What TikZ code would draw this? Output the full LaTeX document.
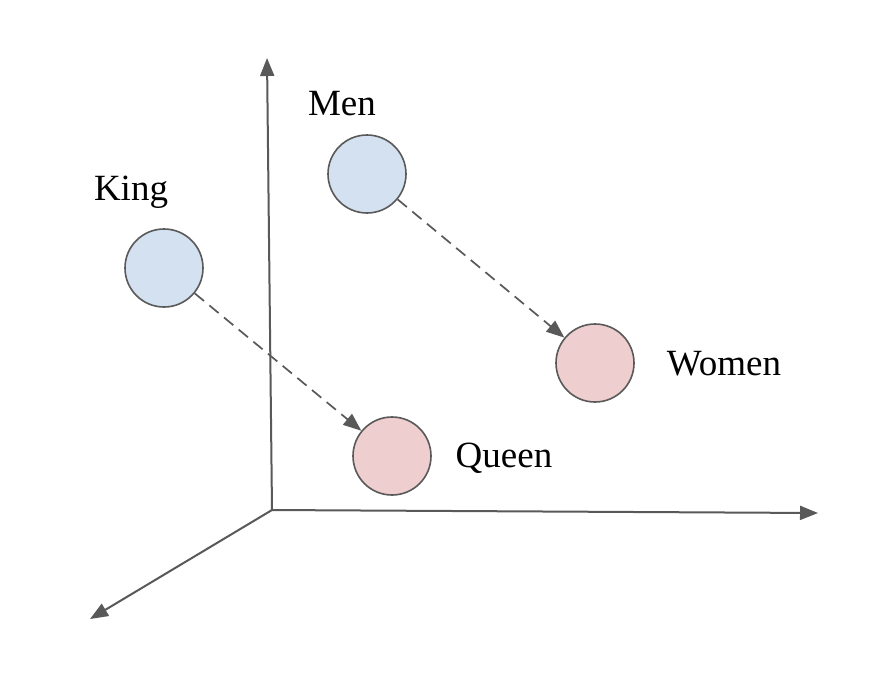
\documentclass[tikz,border=0pt]{standalone}
\usepackage{fontspec}
\setmainfont{Liberation Serif}
\usetikzlibrary{arrows.meta}
\definecolor{linegray}{HTML}{595959}
\definecolor{bluefill}{HTML}{D4E1F0}
\definecolor{pinkfill}{HTML}{EECECE}
\tikzset{
  vec/.style={circle, draw=linegray, line width=1.6pt, minimum size=78pt, inner sep=0pt},
  kingtype/.style={vec, fill=bluefill},
  queentype/.style={vec, fill=pinkfill},
  lbl/.style={font=\fontsize{37}{40}\selectfont, inner sep=0pt},
  axis/.style={draw=linegray, line width=2pt, -{Triangle[length=18pt,width=14pt]}},
  offsetarrow/.style={draw=linegray, line width=1.7pt, dash pattern=on 12pt off 7pt, -{Triangle[length=18pt,width=14pt]}}
}
\begin{document}
\begin{tikzpicture}[x=1pt,y=-1pt]
\useasboundingbox (0,0) rectangle (890,686);
\fill[white] (0,0) rectangle (890,686);
\coordinate (o) at (272,510);
\coordinate (ytip) at (267,58);
\coordinate (xtip) at (818,513);
\coordinate (ztip) at (90,619);
\draw[axis] (o) -- (ytip);
\draw[axis] (o) -- (xtip);
\draw[axis] (o) -- (ztip);
\node[kingtype] (king) at (164,268) {};
\node[kingtype] (men) at (367,174) {};
\node[queentype] (women) at (595,363) {};
\node[queentype] (queen) at (392,456) {};
\node[lbl] (kinglbl) at (131,192) {King};
\node[lbl] (menlbl) at (342,104) {Men};
\node[lbl] (womenlbl) at (724,364) {Women};
\node[lbl] (queenlbl) at (504,458) {Queen};
\draw[offsetarrow] (king) -- (queen);
\draw[offsetarrow] (men) -- (women);
\end{tikzpicture}
\end{document}
